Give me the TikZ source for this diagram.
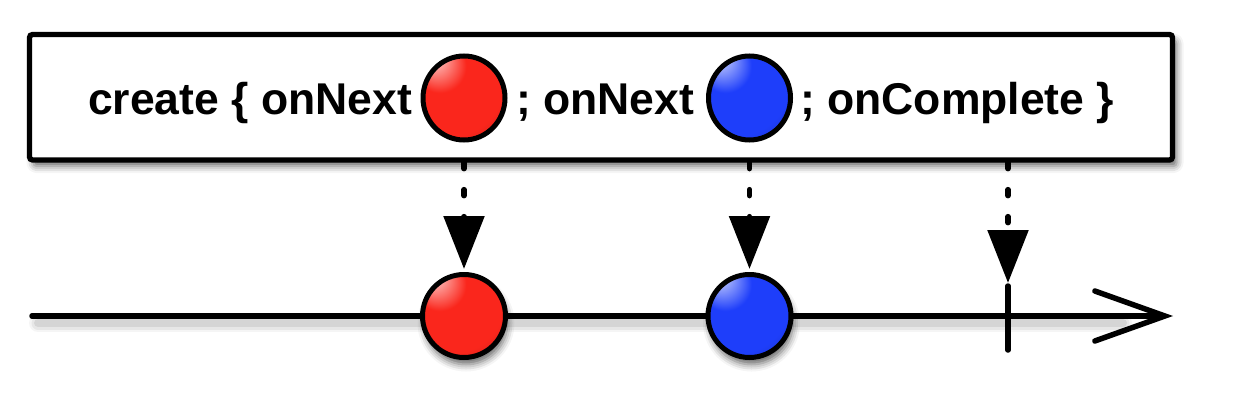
\documentclass[tikz,border=0pt]{standalone}
\usepackage{fontspec}
\setmainfont{Liberation Sans}
\usetikzlibrary{arrows.meta,shadows.blur,shapes.geometric}
\definecolor{mred}{RGB}{250,38,28}
\definecolor{mblue}{RGB}{30,62,250}
\pgfdeclareradialshading{redball}{\pgfpoint{-20bp}{26bp}}{%
  color(0bp)=(red!10!white); color(6bp)=(mred!45!white); color(16bp)=(mred);
  color(34bp)=(mred); color(50bp)=(mred!70!black); color(60bp)=(mred!50!black)}
\pgfdeclareradialshading{blueball}{\pgfpoint{-20bp}{26bp}}{%
  color(0bp)=(blue!8!white); color(6bp)=(mblue!45!white); color(16bp)=(mblue);
  color(34bp)=(mblue); color(50bp)=(mblue!68!black); color(60bp)=(mblue!48!black)}
\begin{document}
\begin{tikzpicture}[x=1pt,y=-1pt,
  thickline/.style={line width=5.5pt},
  boxstyle/.style={draw, line width=5.3pt, rounded corners=3pt, fill=white, minimum width=1143pt, minimum height=125.5pt, inner sep=0pt,
    blur shadow={shadow xshift=4pt, shadow yshift=-6pt, shadow blur radius=7pt, shadow opacity=60}},
  lbl/.style={font=\fontsize{44.5}{50}\selectfont\bfseries, inner sep=0pt, anchor=base west},
  mball/.style={circle, draw, line width=5pt, minimum size=83pt, inner sep=0pt,
    blur shadow={shadow xshift=2pt, shadow yshift=-7pt, shadow blur radius=7pt, shadow opacity=60}},
  eball/.style={ellipse, draw, line width=5pt, minimum width=82pt, minimum height=84pt, inner sep=0pt},
  emit/.style={line width=5.5pt, line cap=round, dash pattern=on 6pt off 21pt, dash phase=0pt,
    -{Triangle[width=40pt,length=53pt]}},
]
\useasboundingbox (0,0) rectangle (1246,412);
% box
\node[boxstyle] (box) at (601,97.25) {};
\node[lbl] (t1) at (88,114) {create \{ onNext};
\node[eball, shading=redball] (rt) at (464,98) {};
\node[lbl] (t2) at (516,114) {; onNext};
\node[eball, shading=blueball] (bt) at (749.5,98) {};
\node[lbl] (t3) at (800,114) {; onComplete \}};
% timeline
\coordinate (tl0) at (32,316);
\coordinate (tl1) at (1173,316);
\foreach \w/\o in {18/0.04, 13/0.06, 8/0.08}
  \draw[line width=\w pt, black, opacity=\o, line cap=round] ([yshift=-7pt,xshift=6pt]tl0) -- ([yshift=-7pt,xshift=-50pt]tl1);
\draw[thickline, line cap=round, -{Straight Barb[length=70pt,width=50pt,line cap=round]}] (tl0) -- (tl1);
\coordinate (tickTop) at (1008,286);
\coordinate (tickBot) at (1008,350);
\draw[thickline, line cap=round] (tickTop) -- (tickBot);
\node[mball, shading=redball] (rb) at (464,316) {};
\node[mball, shading=blueball] (bb) at (749.5,316) {};
% emissions
\draw[emit, shorten >=3pt] (rb |- box.south) -- (rb.north);
\draw[emit, shorten >=3pt] (bb |- box.south) -- (bb.north);
\draw[emit, shorten >=3pt] (tickTop |- box.south) -- (tickTop);
\end{tikzpicture}
\end{document}
